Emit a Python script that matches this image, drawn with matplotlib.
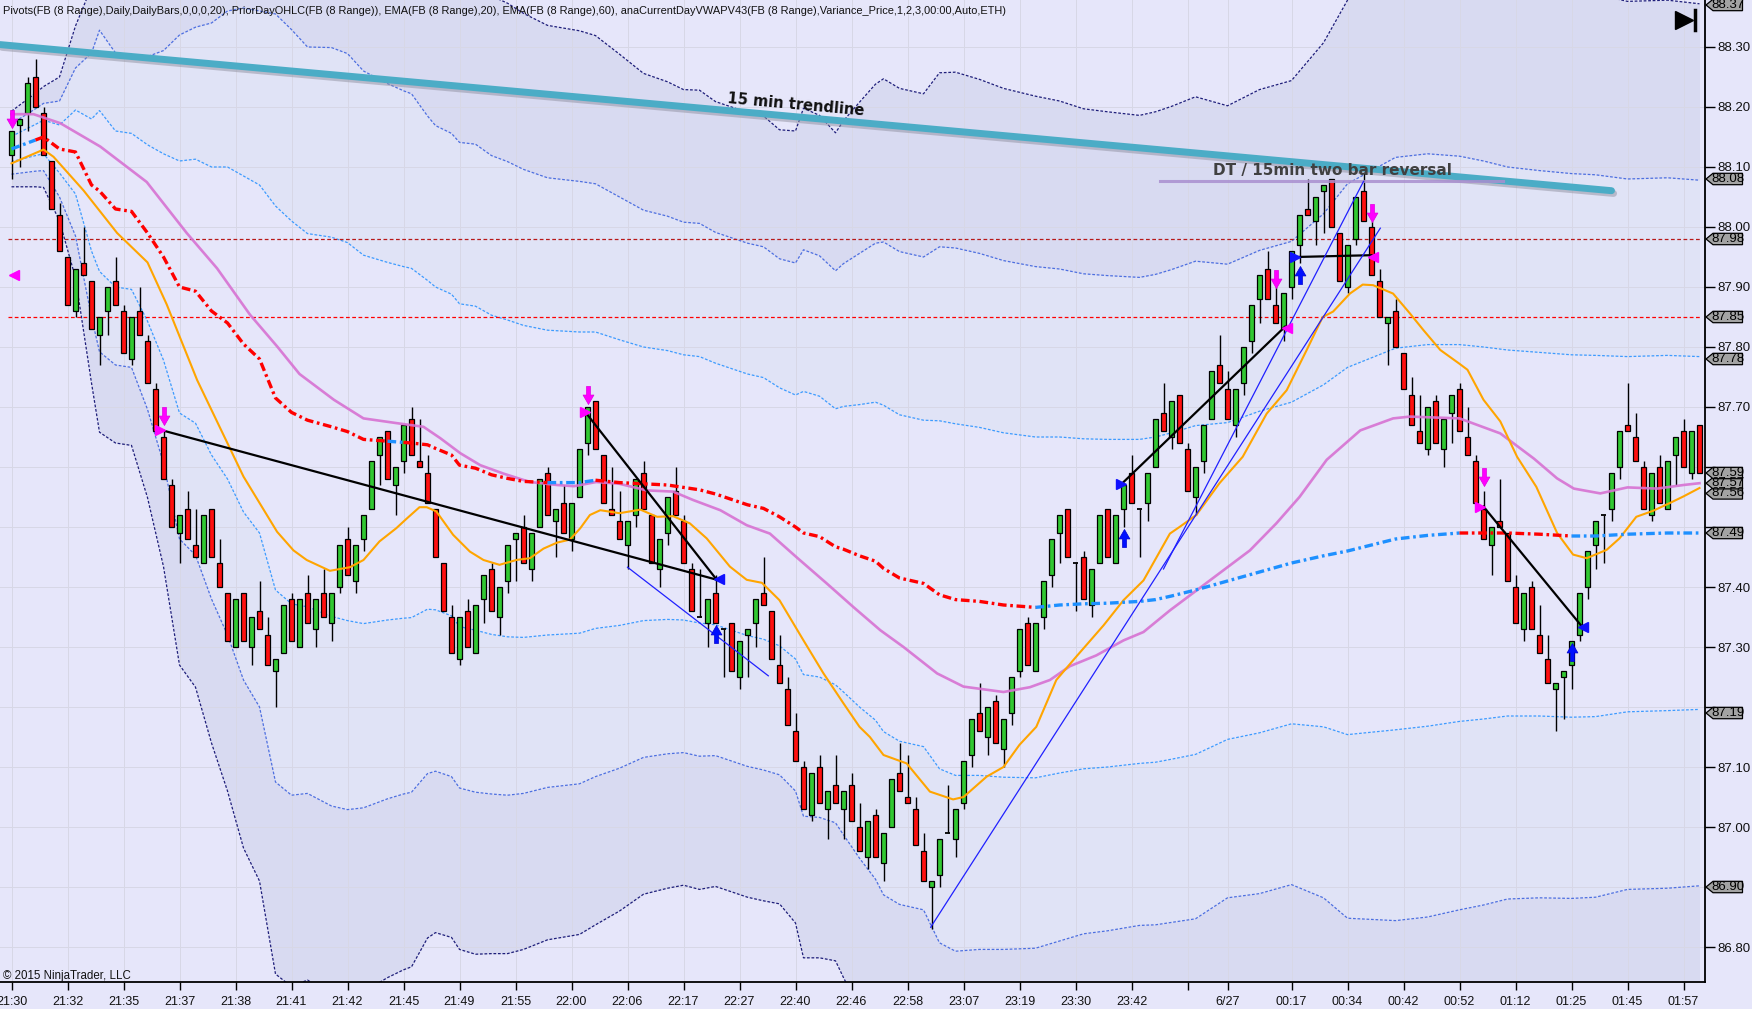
import numpy as np
import matplotlib
matplotlib.use("Agg")
import matplotlib.pyplot as plt
from matplotlib.path import Path
from matplotlib.patches import Polygon
from matplotlib.transforms import blended_transform_factory
import matplotlib.patheffects as pe

# ---- FB (8 Range) bars ----
opens = [88.12, 88.17, 88.19, 88.25, 88.19, 88.11, 88.02, 87.95, 87.86, 87.94,
         87.91, 87.82, 87.86, 87.91, 87.86, 87.78, 87.86, 87.81, 87.73, 87.65,
         87.57, 87.49, 87.53, 87.47, 87.44, 87.53, 87.44, 87.39, 87.30, 87.39,
         87.30, 87.36, 87.32, 87.26, 87.29, 87.38, 87.30, 87.39, 87.33, 87.39,
         87.34, 87.40, 87.48, 87.41, 87.48, 87.53, 87.62, 87.66, 87.57, 87.61,
         87.68, 87.61, 87.59, 87.53, 87.44, 87.35, 87.28, 87.36, 87.29, 87.38,
         87.43, 87.35, 87.41, 87.48, 87.50, 87.43, 87.50, 87.59, 87.51, 87.54,
         87.48, 87.55, 87.64, 87.71, 87.62, 87.53, 87.51, 87.47, 87.52, 87.59,
         87.52, 87.43, 87.49, 87.56, 87.51, 87.43, 87.35, 87.34, 87.39, 87.33,
         87.34, 87.25, 87.32, 87.34, 87.39, 87.36, 87.27, 87.23, 87.16, 87.10,
         87.02, 87.10, 87.03, 87.07, 87.03, 87.07, 87.00, 86.95, 87.02, 86.94,
         87.00, 87.09, 87.05, 87.03, 86.96, 86.90, 86.92, 86.99, 86.98, 87.04,
         87.12, 87.19, 87.15, 87.21, 87.13, 87.19, 87.26, 87.34, 87.26, 87.35,
         87.42, 87.49, 87.53, 87.44, 87.45, 87.37, 87.44, 87.53, 87.44, 87.53,
         87.59, 87.53, 87.54, 87.60, 87.69, 87.65, 87.72, 87.63, 87.55, 87.61,
         87.68, 87.77, 87.73, 87.67, 87.74, 87.81, 87.88, 87.93, 87.87, 87.83,
         87.90, 87.97, 88.03, 88.01, 88.06, 88.08, 87.99, 87.90, 87.98, 88.06,
         88.00, 87.91, 87.84, 87.86, 87.79, 87.72, 87.66, 87.63, 87.71, 87.63,
         87.69, 87.73, 87.65, 87.61, 87.53, 87.47, 87.51, 87.49, 87.40, 87.33,
         87.40, 87.32, 87.28, 87.23, 87.25, 87.27, 87.32, 87.40, 87.47, 87.52,
         87.53, 87.60, 87.67, 87.65, 87.60, 87.52, 87.60, 87.53, 87.62, 87.66,
         87.59, 87.67]
highs = [88.16, 88.18, 88.25, 88.28, 88.20, 88.11, 88.04, 87.95, 87.93, 88.00,
         87.91, 87.85, 87.90, 87.95, 87.87, 87.85, 87.90, 87.82, 87.74, 87.66,
         87.58, 87.52, 87.56, 87.53, 87.52, 87.53, 87.48, 87.39, 87.38, 87.39,
         87.35, 87.41, 87.35, 87.28, 87.37, 87.39, 87.38, 87.42, 87.38, 87.43,
         87.39, 87.47, 87.50, 87.47, 87.52, 87.61, 87.65, 87.66, 87.60, 87.67,
         87.70, 87.68, 87.62, 87.53, 87.44, 87.37, 87.35, 87.38, 87.37, 87.42,
         87.44, 87.40, 87.47, 87.49, 87.52, 87.49, 87.58, 87.60, 87.53, 87.57,
         87.54, 87.63, 87.70, 87.71, 87.62, 87.60, 87.56, 87.51, 87.58, 87.61,
         87.52, 87.48, 87.55, 87.60, 87.52, 87.44, 87.43, 87.38, 87.42, 87.33,
         87.34, 87.31, 87.33, 87.38, 87.45, 87.36, 87.32, 87.25, 87.19, 87.11,
         87.09, 87.12, 87.06, 87.12, 87.06, 87.09, 87.04, 87.01, 87.03, 86.99,
         87.08, 87.14, 87.12, 87.05, 86.99, 86.91, 86.98, 87.07, 87.03, 87.11,
         87.18, 87.24, 87.20, 87.22, 87.18, 87.25, 87.33, 87.35, 87.34, 87.41,
         87.48, 87.52, 87.53, 87.44, 87.46, 87.43, 87.52, 87.53, 87.52, 87.57,
         87.62, 87.53, 87.59, 87.68, 87.74, 87.71, 87.72, 87.64, 87.60, 87.67,
         87.76, 87.82, 87.76, 87.73, 87.80, 87.87, 87.92, 87.96, 87.92, 87.89,
         87.96, 88.02, 88.08, 88.05, 88.07, 88.08, 87.99, 87.97, 88.05, 88.09,
         88.01, 87.93, 87.85, 87.88, 87.79, 87.75, 87.72, 87.70, 87.72, 87.68,
         87.72, 87.74, 87.70, 87.62, 87.56, 87.50, 87.58, 87.49, 87.42, 87.39,
         87.41, 87.37, 87.32, 87.24, 87.26, 87.31, 87.39, 87.46, 87.51, 87.52,
         87.59, 87.66, 87.74, 87.69, 87.61, 87.59, 87.62, 87.61, 87.65, 87.68,
         87.66, 87.67]
lows = [88.08, 88.10, 88.16, 88.20, 88.12, 88.03, 87.96, 87.87, 87.85, 87.92,
        87.83, 87.77, 87.82, 87.87, 87.79, 87.77, 87.82, 87.74, 87.66, 87.58,
        87.50, 87.44, 87.48, 87.45, 87.44, 87.45, 87.40, 87.31, 87.30, 87.31,
        87.27, 87.33, 87.27, 87.20, 87.29, 87.31, 87.30, 87.34, 87.30, 87.35,
        87.31, 87.39, 87.42, 87.39, 87.46, 87.53, 87.57, 87.58, 87.52, 87.59,
        87.62, 87.60, 87.54, 87.45, 87.36, 87.29, 87.27, 87.30, 87.29, 87.34,
        87.36, 87.32, 87.39, 87.41, 87.44, 87.41, 87.50, 87.52, 87.45, 87.49,
        87.46, 87.55, 87.62, 87.63, 87.54, 87.52, 87.48, 87.43, 87.50, 87.53,
        87.44, 87.40, 87.47, 87.52, 87.44, 87.36, 87.35, 87.30, 87.34, 87.25,
        87.26, 87.23, 87.25, 87.30, 87.37, 87.28, 87.24, 87.17, 87.11, 87.03,
        87.01, 87.04, 86.98, 87.04, 86.98, 87.01, 86.96, 86.93, 86.95, 86.91,
        87.00, 87.06, 87.04, 86.97, 86.91, 86.83, 86.90, 86.99, 86.95, 87.03,
        87.10, 87.16, 87.12, 87.14, 87.10, 87.17, 87.25, 87.27, 87.26, 87.33,
        87.40, 87.44, 87.45, 87.36, 87.38, 87.35, 87.44, 87.45, 87.44, 87.50,
        87.54, 87.45, 87.51, 87.60, 87.66, 87.63, 87.64, 87.56, 87.52, 87.59,
        87.68, 87.74, 87.68, 87.65, 87.72, 87.79, 87.84, 87.88, 87.84, 87.81,
        87.88, 87.94, 88.02, 87.97, 87.99, 88.00, 87.91, 87.89, 87.97, 88.01,
        87.92, 87.85, 87.77, 87.80, 87.73, 87.67, 87.64, 87.62, 87.64, 87.60,
        87.64, 87.66, 87.62, 87.54, 87.48, 87.42, 87.50, 87.41, 87.34, 87.31,
        87.33, 87.29, 87.24, 87.16, 87.18, 87.23, 87.31, 87.38, 87.43, 87.44,
        87.51, 87.58, 87.66, 87.61, 87.53, 87.51, 87.54, 87.53, 87.57, 87.60,
        87.58, 87.59]
closes = [88.16, 88.18, 88.24, 88.20, 88.12, 88.03, 87.96, 87.87, 87.93, 87.92,
          87.83, 87.85, 87.90, 87.87, 87.79, 87.85, 87.82, 87.74, 87.66, 87.58,
          87.50, 87.52, 87.48, 87.45, 87.52, 87.45, 87.40, 87.31, 87.38, 87.31,
          87.35, 87.33, 87.27, 87.28, 87.37, 87.31, 87.38, 87.34, 87.38, 87.35,
          87.39, 87.47, 87.42, 87.47, 87.52, 87.61, 87.65, 87.58, 87.60, 87.67,
          87.62, 87.60, 87.54, 87.45, 87.36, 87.29, 87.35, 87.30, 87.37, 87.42,
          87.36, 87.40, 87.47, 87.49, 87.44, 87.49, 87.58, 87.52, 87.53, 87.49,
          87.54, 87.63, 87.70, 87.63, 87.54, 87.52, 87.48, 87.51, 87.58, 87.53,
          87.44, 87.48, 87.55, 87.52, 87.44, 87.36, 87.35, 87.38, 87.34, 87.33,
          87.26, 87.31, 87.33, 87.38, 87.37, 87.28, 87.24, 87.17, 87.11, 87.03,
          87.09, 87.04, 87.06, 87.04, 87.06, 87.01, 86.96, 87.01, 86.95, 86.99,
          87.08, 87.06, 87.04, 86.97, 86.91, 86.91, 86.98, 86.99, 87.03, 87.11,
          87.18, 87.16, 87.20, 87.14, 87.18, 87.25, 87.33, 87.27, 87.34, 87.41,
          87.48, 87.52, 87.45, 87.44, 87.38, 87.43, 87.52, 87.45, 87.52, 87.57,
          87.54, 87.53, 87.59, 87.68, 87.66, 87.71, 87.64, 87.56, 87.60, 87.67,
          87.76, 87.74, 87.68, 87.73, 87.80, 87.87, 87.92, 87.88, 87.84, 87.89,
          87.96, 88.02, 88.02, 88.05, 88.07, 88.00, 87.91, 87.97, 88.05, 88.01,
          87.92, 87.85, 87.85, 87.80, 87.73, 87.67, 87.64, 87.70, 87.64, 87.68,
          87.72, 87.66, 87.62, 87.54, 87.48, 87.50, 87.50, 87.41, 87.34, 87.39,
          87.33, 87.29, 87.24, 87.24, 87.26, 87.31, 87.39, 87.46, 87.51, 87.52,
          87.59, 87.66, 87.66, 87.61, 87.53, 87.59, 87.54, 87.61, 87.65, 87.60,
          87.66, 87.59]

# time axis labels (every 7 bars, plus the date marker)
tick_bars = [0, 7, 14, 21, 28, 35, 42, 49, 56, 63, 70, 77, 84, 91, 98, 105,
             112, 119, 126, 133, 140, 147, 152, 160, 167, 174, 181, 188, 195, 202, 209]
tick_labels = ["21:30", "21:32", "21:35", "21:37", "21:38", "21:41", "21:42", "21:45",
               "21:49", "21:55", "22:00", "22:06", "22:17", "22:27", "22:40", "22:46",
               "22:58", "23:07", "23:19", "23:30", "23:42", "", "6/27", "00:17",
               "00:34", "00:42", "00:52", "01:12", "01:25", "01:45", "01:57"]

# EMA(20) and EMA(60) (bar index, price)
ema20_bars = [0, 4, 5.25, 9, 13.2, 17, 19.4, 23.2, 29, 33.2, 35.25, 36.9, 39.8, 42.3, 44, 46,
              48.1, 49.4, 51, 51.9, 53.1, 55.2, 57.3, 59, 61, 63.1, 64.8, 66.5, 68.2, 69.8,
              71.1, 72.3, 73.6, 76, 78.6, 80.7, 82.7, 84.8, 86.9, 89.8, 91.9, 93.8, 96, 99,
              101.5, 104, 106, 107.3, 109, 111.9, 114.8, 117.7, 119, 121.9, 124, 126, 128.1,
              130.6, 133.1, 136.5, 139, 141.5, 144.8, 146, 148.1, 151, 153.9, 156.9, 159.4,
              161.9, 163.9, 165.2, 167.3, 168.9, 170.2, 172.7, 174.8, 176.5, 178.6, 181, 182,
              184, 186.1, 188.2, 190.6, 193.2, 195.2, 196.9, 199.4, 201, 203.1, 205.2, 207.3,
              209, 211]
ema20_vals = [88.106, 88.129, 88.117, 88.061, 87.99, 87.941, 87.871, 87.745, 87.584, 87.492,
              87.461, 87.445, 87.427, 87.433, 87.445, 87.476, 87.498, 87.514, 87.533, 87.533,
              87.526, 87.487, 87.459, 87.445, 87.437, 87.445, 87.448, 87.464, 87.474, 87.479,
              87.498, 87.52, 87.528, 87.523, 87.529, 87.517, 87.518, 87.506, 87.481, 87.434,
              87.412, 87.407, 87.378, 87.311, 87.256, 87.206, 87.167, 87.15, 87.12, 87.106,
              87.059, 87.046, 87.05, 87.084, 87.1, 87.137, 87.167, 87.245, 87.284, 87.336,
              87.378, 87.411, 87.489, 87.5, 87.52, 87.573, 87.617, 87.689, 87.728, 87.795,
              87.85, 87.859, 87.889, 87.904, 87.903, 87.889, 87.856, 87.828, 87.795, 87.772,
              87.762, 87.712, 87.676, 87.617, 87.567, 87.49, 87.454, 87.448, 87.462, 87.481,
              87.517, 87.527, 87.54, 87.551, 87.565]
ema60_bars = [0, 2.75, 6.1, 11.1, 16.9, 21.9, 25.7, 29.8, 33.2, 36, 40.3, 44, 48.2, 51.5,
              53.6, 56.1, 58.6, 61.5, 64.8, 68.2, 70.3, 73.1, 76, 79.4, 82.7, 85.2, 88.6,
              91.9, 94.8, 98.1, 101.9, 105.2, 108.6, 111.5, 115.7, 119, 124, 127.3, 129.8,
              132.3, 135.6, 139, 141.5, 144.8, 154.8, 158.1, 161, 164.4, 168.6, 172.7, 174.8,
              181, 186.1, 190.3, 193.2, 195.3, 198.6, 202, 205.7, 209, 211]
ema60_vals = [88.188, 88.188, 88.173, 88.134, 88.075, 87.99, 87.931, 87.854, 87.801, 87.755,
              87.712, 87.681, 87.673, 87.667, 87.648, 87.623, 87.603, 87.589, 87.575, 87.57,
              87.568, 87.575, 87.572, 87.561, 87.559, 87.545, 87.528, 87.503, 87.489, 87.45,
              87.406, 87.367, 87.328, 87.3, 87.256, 87.234, 87.225, 87.233, 87.245, 87.268,
              87.286, 87.311, 87.325, 87.361, 87.461, 87.506, 87.55, 87.612, 87.661, 87.681,
              87.684, 87.681, 87.656, 87.614, 87.581, 87.564, 87.556, 87.566, 87.564, 87.57,
              87.573]

# current-day VWAP and its standard deviation (bands at 1, 2, 3 sigma)
vwap_bars = [0, 3, 4, 6, 8, 10, 11, 13, 15, 17, 19, 21, 23, 25, 27, 29, 31, 33, 35, 37,
             40, 42, 44, 47, 49, 50, 52, 53, 55, 56, 58, 60, 62, 64, 67, 71, 73, 76, 79, 82,
             84, 86, 88, 90, 92, 94, 96, 98, 99, 101, 103, 104, 106, 108, 109, 111, 114, 116,
             118, 121, 124, 128, 131, 134, 137, 141, 143, 145, 148, 152, 156, 160, 164, 167,
             170, 173, 177, 181, 184, 187, 191, 195, 198, 202, 207, 211]
vwap_vals = [88.13, 88.145, 88.15, 88.13, 88.125, 88.07, 88.06, 88.03, 88.026, 87.99,
             87.95, 87.90, 87.893, 87.86, 87.84, 87.805, 87.78, 87.715, 87.691, 87.678,
             87.667, 87.659, 87.646, 87.643, 87.641, 87.64, 87.637, 87.631, 87.62, 87.603,
             87.598, 87.587, 87.581, 87.576, 87.574, 87.574, 87.578, 87.574, 87.572, 87.57,
             87.566, 87.562, 87.555, 87.546, 87.537, 87.531, 87.517, 87.50, 87.49, 87.484,
             87.467, 87.463, 87.452, 87.443, 87.431, 87.415, 87.406, 87.387, 87.379, 87.376,
             87.37, 87.366, 87.37, 87.372, 87.373, 87.376, 87.379, 87.385, 87.395, 87.41,
             87.425, 87.44, 87.452, 87.46, 87.47, 87.48, 87.486, 87.49, 87.49, 87.49,
             87.488, 87.485, 87.485, 87.488, 87.49, 87.49]
vwap_sigma = [0.021, 0.026, 0.028, 0.04, 0.07, 0.11, 0.134, 0.13, 0.13, 0.147,
              0.172, 0.21, 0.22, 0.24, 0.26, 0.28, 0.29, 0.32, 0.319, 0.311,
              0.316, 0.315, 0.307, 0.298, 0.293, 0.291, 0.274, 0.269, 0.268, 0.269,
              0.27, 0.266, 0.264, 0.26, 0.254, 0.251, 0.247, 0.238, 0.228, 0.224,
              0.221, 0.222, 0.218, 0.218, 0.218, 0.218, 0.215, 0.22, 0.236, 0.234,
              0.23, 0.238, 0.252, 0.265, 0.272, 0.272, 0.272, 0.29, 0.293, 0.29,
              0.287, 0.284, 0.28, 0.275, 0.273, 0.27, 0.271, 0.272, 0.274, 0.264,
              0.268, 0.268, 0.285, 0.306, 0.312, 0.318, 0.318, 0.314, 0.31, 0.305,
              0.303, 0.302, 0.301, 0.296, 0.296, 0.294]

# prior day levels
prior_high = 87.98
prior_close = 87.85

# signal markers (bar, price)
sell_arrows = [(0, 88.18), (19, 87.685), (72, 87.72), (158, 87.914), (170, 88.024), (184, 87.584)]
buy_arrows = [(88, 87.322), (139, 87.481), (161, 87.92), (195, 87.292)]
pink_right = [(18.6, 87.661), (71.7, 87.692), (183.6, 87.534)]
pink_left = [(0.3, 87.92), (159.4, 87.831), (170.2, 87.95)]
blue_right = [(138.65, 87.571), (160.4, 87.95)]
blue_left = [(88.4, 87.413), (196.4, 87.334)]

# hand-drawn objects
trend15 = ([-1.44, 200.0], [88.304, 88.0605])
black_lines = [([18.6, 88.2], [87.662, 87.412]),
               ([71.7, 88.1], [87.692, 87.413]),
               ([138.7, 159.2], [87.571, 87.834]),
               ([160.6, 170.0], [87.95, 87.953]),
               ([184.0, 196.5], [87.534, 87.331])]
blue_lines = [([77.0, 94.6], [87.433, 87.252]),
              ([114.9, 171.1], [86.833, 87.998]),
              ([144.0, 169.0], [87.43, 88.076])]
dt_line = ([143.6, 186.4], [88.077, 88.077])

price_flags = [(88.37, "88.37"), (88.08, "88.08"), (87.98, "87.98"), (87.85, "87.85"),
               (87.78, "87.78"), (87.556, "87.56"), (87.573, "87.57"), (87.59, "87.59"),
               (87.49, "87.49"), (87.19, "87.19"), (86.90, "86.90")]

header = ("Pivots(FB (8 Range),Daily,DailyBars,0,0,0,20), PriorDayOHLC(FB (8 Range)), "
          "EMA(FB (8 Range),20), EMA(FB (8 Range),60), "
          "anaCurrentDayVWAPV43(FB (8 Range),Variance_Price,1,2,3,00:00,Auto,ETH)")

# ---------------------------------------------------------------
BG = "#E6E6FA"
W, H = 1752, 1009
fig = plt.figure(figsize=(W / 100, H / 100), dpi=100, facecolor=BG)
ax = fig.add_axes([0, 27 / H, 1705 / W, 982 / H])
ax.set_facecolor(BG)
ax.set_xlim(-1.4375, 211.6875)
ax.set_ylim(86.7417, 88.3783)
ax.set_axisbelow("line")

o = np.array(opens); h = np.array(highs); l = np.array(lows); c = np.array(closes)
x = np.arange(len(o))

# variance bands
bx = np.array(vwap_bars, dtype=float)
vw = np.array(vwap_vals)
sg = np.array(vwap_sigma)
ax.fill_between(bx, vw + sg, vw + 2 * sg, color="#E0E3F6", lw=0, zorder=1)
ax.fill_between(bx, vw - 2 * sg, vw - sg, color="#E0E3F6", lw=0, zorder=1)
ax.fill_between(bx, vw + 2 * sg, vw + 3 * sg, color="#D8DAF1", lw=0, zorder=1)
ax.fill_between(bx, vw - 3 * sg, vw - 2 * sg, color="#D8DAF1", lw=0, zorder=1)
band_styles = [(1, "#3D9BFF"), (2, "#4D6FE0"), (3, "#1E1E7A")]
for k, col in band_styles:
    for s in (1, -1):
        ax.plot(bx, vw + s * k * sg, color=col, lw=0.9, ls=(0, (2.2, 1.4)), zorder=2)

# prior day lines
ax.plot([-0.4, 211], [prior_high, prior_high], color="#B81818", lw=0.9, ls=(0, (3, 2)), zorder=2)
ax.plot([-0.4, 211], [prior_close, prior_close], color="#FF0000", lw=0.9, ls=(0, (3, 2)), zorder=2)

# grid
ax.grid(True, color="#D7D7E6", lw=0.7)

# candles
up = c > o + 1e-9
dn = c < o - 1e-9
dj = ~(up | dn)
ax.vlines(x, l, h, color="black", lw=1.0, zorder=4)
ax.bar(x[up], c[up] - o[up], bottom=o[up], width=0.62, color="#32C832",
       edgecolor="black", linewidth=0.9, zorder=5)
ax.bar(x[dn], o[dn] - c[dn], bottom=c[dn], width=0.62, color="#FF1010",
       edgecolor="black", linewidth=0.9, zorder=5)
ax.hlines(o[dj], x[dj] - 0.31, x[dj] + 0.31, color="black", lw=1.3, zorder=5)

# EMAs
ax.plot(ema60_bars, ema60_vals, color="#D772D2", lw=1.9, alpha=0.9, zorder=6)
ax.plot(ema20_bars, ema20_vals, color="#FFA500", lw=1.5, zorder=6)

# VWAP, blue when price closes above it, red otherwise
dash = (0, (2.6, 1.1, 0.8, 1.1))
seg_col = []
for j in range(1, len(vwap_bars)):
    b = vwap_bars[j]
    seg_col.append("#1E90FF" if closes[b] > vwap_vals[j] else "#FF0000")
start = 0
for j in range(1, len(seg_col) + 1):
    if j == len(seg_col) or seg_col[j] != seg_col[start]:
        ax.plot(vwap_bars[start:j + 1], vwap_vals[start:j + 1], color=seg_col[start],
                lw=2.4, ls=dash, zorder=7)
        start = j

# drawings
ax.plot(*trend15, color="#4BACC6", lw=5.0, solid_capstyle="round", zorder=9,
        path_effects=[pe.SimpleLineShadow(offset=(1.5, -2), shadow_color="#9090A0", alpha=0.5),
                      pe.Normal()])
ax.text(98.1, 88.203, "15 min trendline", rotation=-5.2, ha="center", va="center",
        fontsize=10.5, fontweight="bold", color="#111111", zorder=10)
ax.plot(*dt_line, color="#A98FCF", lw=2.2, alpha=0.85, zorder=9)
ax.text(165.1, 88.094, "DT / 15min two bar reversal", ha="center", va="center",
        fontsize=11, fontweight="bold", color="#404040", zorder=10)
for xs, ys in black_lines:
    ax.plot(xs, ys, color="black", lw=1.6, zorder=9)
for xs, ys in blue_lines:
    ax.plot(xs, ys, color="#2020FF", lw=0.9, zorder=9)

# markers
down_arrow = Path([(-0.22, 1.0), (0.22, 1.0), (0.22, 0.05), (0.6, 0.05), (0.0, -1.0),
                   (-0.6, 0.05), (-0.22, 0.05), (-0.22, 1.0)], closed=True)
up_arrow = Path([(-0.22, -1.0), (0.22, -1.0), (0.22, -0.05), (0.6, -0.05), (0.0, 1.0),
                 (-0.6, -0.05), (-0.22, -0.05), (-0.22, -1.0)], closed=True)
sx, sy = zip(*sell_arrows)
ax.plot(sx, sy, ls="none", marker=down_arrow, ms=13, mfc="#FF00FF", mec="#E000E0", mew=0.5, zorder=11)
bxs, bys = zip(*buy_arrows)
ax.plot(bxs, bys, ls="none", marker=up_arrow, ms=13, mfc="#0010FF", mec="#0000D0", mew=0.5, zorder=11)
for pts, mk, col in [(pink_right, ">", "#FF00FF"), (pink_left, "<", "#FF00FF"),
                     (blue_right, ">", "#1010FF"), (blue_left, "<", "#1010FF")]:
    px, py = zip(*pts)
    ax.plot(px, py, ls="none", marker=mk, ms=6.5, mfc=col, mec=col, zorder=11)

# axes styling
for side in ("left", "top"):
    ax.spines[side].set_visible(False)
for side in ("right", "bottom"):
    ax.spines[side].set_color("black")
    ax.spines[side].set_linewidth(1.3)
ax.yaxis.tick_right()
yt = np.round(np.arange(86.8, 88.31, 0.1), 2)
flag_vals = [v for v, _ in price_flags]
# labels that sit under a price marker are hidden by it
ylabels = ["" if min(abs(v - f) for f in flag_vals) < 0.015 else f"{v:.2f}" for v in yt]
ax.set_yticks(yt)
ax.set_yticklabels(ylabels, fontsize=9.5, family="Liberation Sans", color="#111111")
ax.tick_params(axis="y", length=7, width=1, pad=2)
ax.set_xticks(tick_bars)
ax.set_xticklabels(tick_labels, fontsize=9, family="Liberation Sans", color="#111111")
ax.tick_params(axis="x", length=6, width=1, pad=4)

# price markers on the right axis
tr = blended_transform_factory(ax.transAxes, ax.transData)
ax_w = 1705.0
hh = 0.0095
for v, txt in price_flags:
    pts = [(1 + 1 / ax_w, v), (1 + 8 / ax_w, v + hh), (1 + 37.5 / ax_w, v + hh),
           (1 + 37.5 / ax_w, v - hh), (1 + 8 / ax_w, v - hh)]
    ax.add_patch(Polygon(pts, closed=True, facecolor="#A3A3A3", edgecolor="black",
                         lw=0.9, transform=tr, clip_on=False, zorder=20))
    ax.text(1 + 23 / ax_w, v, txt, transform=tr, ha="center", va="center",
            fontsize=9.5, family="Liberation Sans", color="black", zorder=21, clip_on=False)

# header, copyright and the scroll-to-end icon
fig.text(3 / W, 1 - 11 / H, header, ha="left", va="center", fontsize=7.9,
         family="Liberation Sans", color="#111111")
fig.text(3 / W, 1 - 976 / H, "\u00a9 2015 NinjaTrader, LLC", ha="left", va="center",
         fontsize=8.3, family="Liberation Sans", color="#111111")
ax.plot([1684 / ax_w], [1 - 20 / 982], marker=">", ms=13, color="black",
        transform=ax.transAxes, clip_on=False, zorder=12)
ax.plot([1695 / ax_w, 1695 / ax_w], [1 - 10 / 982, 1 - 30 / 982], color="black", lw=2.5,
        transform=ax.transAxes, clip_on=False, zorder=12)

fig.savefig("out.png", dpi=100, facecolor=BG)
